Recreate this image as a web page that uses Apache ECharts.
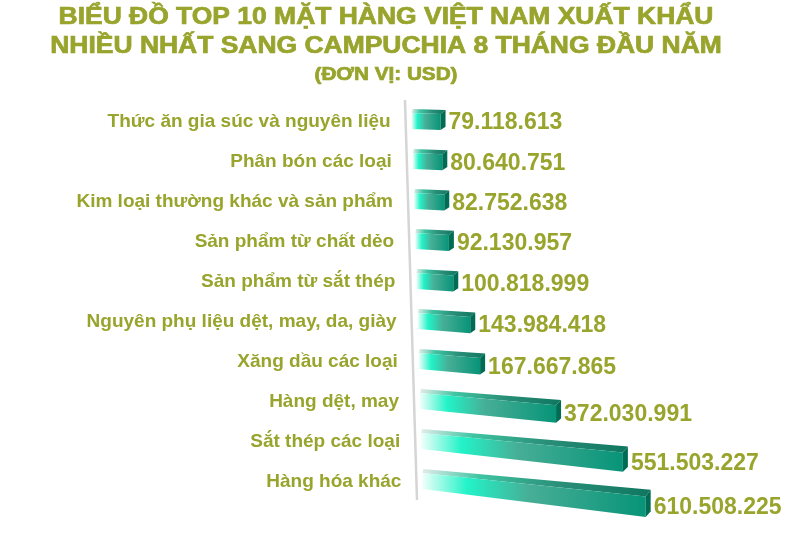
<!DOCTYPE html>
<html>
<head>
<meta charset="utf-8">
<script src="https://cdn.jsdelivr.net/npm/echarts@6/dist/echarts.min.js"></script>
<style>
  html, body { margin: 0; padding: 0; background: #fff; }
  #chart { width: 795px; height: 557px; }
</style>
</head>
<body>
<div id="chart"></div>
<script>
// số liệu
const titleLines = [
  'BIỂU ĐỒ TOP 10 MẶT HÀNG VIỆT NAM XUẤT KHẨU',
  'NHIỀU NHẤT SANG CAMPUCHIA 8 THÁNG ĐẦU NĂM',
  '(ĐƠN VỊ: USD)'
];
const categories = [
  'Thức ăn gia súc và nguyên liệu',
  'Phân bón các loại',
  'Kim loại thường khác và sản phẩm',
  'Sản phẩm từ chất dẻo',
  'Sản phẩm từ sắt thép',
  'Nguyên phụ liệu dệt, may, da, giày',
  'Xăng dầu các loại',
  'Hàng dệt, may',
  'Sắt thép các loại',
  'Hàng hóa khác'
];
const values = [79118613, 80640751, 82752638, 92130957, 100818999, 143984418, 167667865, 372030991, 551503227, 610508225];

const olive = '#98a42c';
const FONT = "'Liberation Sans', Arial, sans-serif";

function fmt(v) {
  return String(v).replace(/\B(?=(\d{3})+(?!\d))/g, '.');
}

const chart = echarts.init(document.getElementById('chart'));

// vẽ thanh 3D có phối cảnh
function renderBar(params, api) {
  const cs = params.coordSys;
  const idx = api.value(1);
  const left = api.coord([0, idx]);
  const right = api.coord([api.value(0), idx]);
  const yc = left[1];
  const sh = 0.03 * (yc - cs.y);          // nghiêng trục
  const rel = (yc - cs.y - 20) / 360;     // 0 hàng đầu, 1 hàng cuối
  const xl = left[0] + sh;
  const xr = right[0] + sh;
  const L = xr - xl;
  const kt = 0.035 + 0.07 * rel;
  const kh = 0.02 * rel * rel;
  const s = 5;
  const t0 = 4;
  const t1 = 4 + 0.012 * L * rel;

  const A = [xl, yc - 7];
  const B = [xr, yc - 7 + kt * L];
  const C = [xr, yc + 9 + (kt + kh) * L];
  const D = [xl, yc + 9];
  const Bt = [xr + s, B[1] - t1];
  const At = [xl + 1, A[1] - t0];
  const Ct = [xr + s, C[1] - t1 * 0.8];

  const frontFill = new echarts.graphic.LinearGradient(0, 0, 1, 0, [
    { offset: 0, color: '#effffa' },
    { offset: 0.2, color: '#22f3c8' },
    { offset: 0.48, color: '#47ae96' },
    { offset: 1, color: '#079478' }
  ]);
  const topFill = new echarts.graphic.LinearGradient(0, 0, 1, 0, [
    { offset: 0, color: '#e2ece9' },
    { offset: 0.25, color: '#3fc4a2' },
    { offset: 0.6, color: '#2a8f78' },
    { offset: 1, color: '#0f7660' }
  ]);

  const axisX = cs.x - 6;
  return {
    type: 'group',
    children: [
      {
        type: 'line',
        shape: {
          x1: axisX + 0.03 * (yc - 20 - cs.y), y1: yc - 20,
          x2: axisX + 0.03 * (yc + 20 - cs.y), y2: yc + 20
        },
        style: { stroke: '#d5d5d5', lineWidth: 2.5 }
      },
      {
        type: 'text',
        style: {
          text: categories[idx],
          x: cs.x - 21 + sh,
          y: yc + 2,
          align: 'right',
          verticalAlign: 'middle',
          fill: olive,
          font: 'bold 19px ' + FONT
        }
      },
      {
        type: 'polygon',
        shape: { points: [A, B, Bt, At] },
        style: { fill: topFill }
      },
      {
        type: 'polygon',
        shape: { points: [A, B, C, D] },
        style: { fill: frontFill }
      },
      {
        type: 'polygon',
        shape: { points: [B, Bt, Ct, C] },
        style: { fill: '#016c54' }
      },
      {
        type: 'text',
        style: {
          text: fmt(api.value(0)),
          x: xr + s + 3,
          y: (B[1] + C[1]) / 2 + 1,
          align: 'left',
          verticalAlign: 'middle',
          fill: olive,
          font: 'bold 23px ' + FONT
        }
      }
    ]
  };
}

const titleStyle = (text, size) => ({
  text: text,
  align: 'center',
  verticalAlign: 'middle',
  fill: olive,
  stroke: olive,
  lineWidth: 0.7,
  font: 'bold ' + size + 'px ' + FONT
});

const option = {
  backgroundColor: '#ffffff',
  animation: false,
  graphic: [
    { type: 'text', x: 386, y: 18, scaleX: 1.15, style: titleStyle(titleLines[0], 23) },
    { type: 'text', x: 386, y: 47, scaleX: 1.15, style: titleStyle(titleLines[1], 23) },
    { type: 'text', x: 386, y: 75, scaleX: 1.15, style: titleStyle(titleLines[2], 18) }
  ],
  grid: {
    left: 411,
    top: 100,
    width: 256,
    height: 400
  },
  xAxis: {
    type: 'value',
    min: 0,
    max: 700000000,
    show: false
  },
  yAxis: {
    type: 'category',
    inverse: true,
    data: categories,
    show: false
  },
  series: [
    {
      type: 'custom',
      clip: false,
      renderItem: renderBar,
      encode: { x: 0, y: 1 },
      data: values.map((v, i) => [v, i])
    }
  ]
};

chart.setOption(option);
</script>
</body>
</html>
